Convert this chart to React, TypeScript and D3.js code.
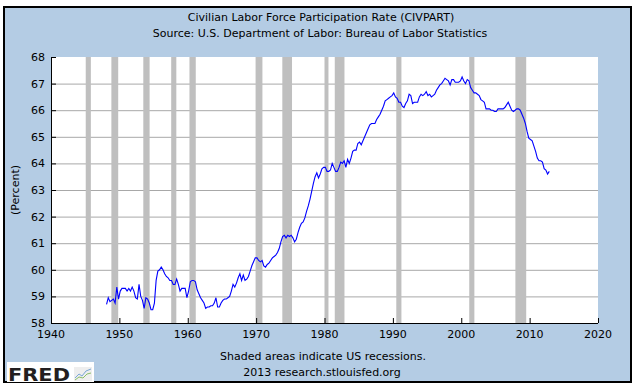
import React from "react";
import * as d3 from "d3";

// quarterly CIVPART values (percent)
const civpart1940s = [
  58.7, 58.95, 58.8, 58.85, // 1948
  58.9, 58.75, 59.35, 58.9, // 1949
];
const civpart1950s = [
  59.2, 59.3, 59.3, 59.3,
  59.2, 59.3, 59.2, 59.35,
  59.2, 58.95, 58.9, 59.45,
  59.0, 58.85, 58.55, 58.95,
  58.9, 58.75, 58.5, 58.5,
  58.75, 59.6, 59.95, 60.0,
  60.1, 60.0, 59.85, 59.75,
  59.7, 59.6, 59.6, 59.45,
  59.45, 59.65, 59.45, 59.2,
  59.3, 59.3, 59.3, 58.95,
];
const civpart1960s = [
  59.2, 59.55, 59.6, 59.6,
  59.55, 59.25, 59.1, 58.95,
  58.85, 58.75, 58.55, 58.6,
  58.6, 58.65, 58.65, 58.75,
  58.95, 58.6, 58.6, 58.75,
  58.85, 58.9, 58.9, 58.95,
  59.0, 59.2, 59.45, 59.35,
  59.5, 59.7, 59.85, 59.6,
  59.8, 59.6, 59.65, 59.75,
  59.95, 60.15, 60.3, 60.45,
];
const civpart1970s = [
  60.45, 60.35, 60.3, 60.35,
  60.15, 60.1, 60.2, 60.25,
  60.35, 60.45, 60.5, 60.55,
  60.65, 60.8, 61.05, 61.25,
  61.3, 61.2, 61.3, 61.25,
  61.3, 61.2, 61.05, 61.15,
  61.4, 61.6, 61.75, 61.8,
  61.95, 62.2, 62.4, 62.65,
  62.95, 63.25, 63.5, 63.65,
  63.45, 63.6, 63.8, 63.85,
];
const civpart1980s = [
  63.85, 63.7, 63.7, 63.75,
  64.0, 63.85, 63.7, 63.7,
  63.85, 64.05, 64.0, 64.1,
  63.85, 64.15, 64.0, 64.2,
  64.45, 64.5, 64.5, 64.75,
  64.8, 64.7, 64.85, 65.0,
  65.15, 65.3, 65.45, 65.5,
  65.5, 65.5, 65.65, 65.75,
  65.85, 66.0, 66.15, 66.35,
  66.4, 66.45, 66.5, 66.55,
];
const civpart1990s = [
  66.65, 66.5, 66.45, 66.3,
  66.3, 66.15, 66.1, 66.25,
  66.35, 66.6, 66.55, 66.25,
  66.3, 66.3, 66.3, 66.5,
  66.6, 66.55, 66.6, 66.7,
  66.55, 66.6, 66.5, 66.55,
  66.6, 66.75, 66.85, 66.95,
  67.0, 67.1, 67.2, 67.15,
  67.1, 66.95, 67.15, 67.15,
  67.05, 67.05, 67.05, 67.1,
];
const civpart2000s = [
  67.25, 67.1, 67.0, 67.15,
  67.1, 66.85, 66.75, 66.65,
  66.65, 66.6, 66.55, 66.4,
  66.35, 66.3, 66.05, 66.05,
  66.05, 66.0, 66.0, 65.95,
  65.95, 66.05, 66.05, 66.05,
  66.05, 66.1, 66.2, 66.3,
  66.15, 66.0, 65.95, 66.0,
  66.05, 66.05, 66.0, 65.85,
  65.7, 65.5, 65.2, 64.95,
];
const civpart2010s = [
  64.9, 64.85, 64.65, 64.45,
  64.2, 64.1, 64.1, 64.05,
  63.8, 63.75, 63.6, 63.7,
];

const firstYear = 1948;

// NBER recessions, [peak, trough] as decimal years
const recessions: [number, number][] = [
  [1945.08, 1945.83], [1948.83, 1949.83], [1953.5, 1954.42], [1957.58, 1958.33],
  [1960.25, 1961.17], [1969.92, 1970.92], [1973.83, 1975.25], [1980.0, 1980.58],
  [1981.5, 1982.92], [1990.5, 1991.25], [2001.17, 2001.92], [2007.92, 2009.5],
];

const xTicks = [1940, 1950, 1960, 1970, 1980, 1990, 2000, 2010, 2020];
const yTicks = [58, 59, 60, 61, 62, 63, 64, 65, 66, 67, 68];

const font = "'DejaVu Sans', Verdana, sans-serif";

export default function App() {
  const values = [
    ...civpart1940s, ...civpart1950s, ...civpart1960s, ...civpart1970s,
    ...civpart1980s, ...civpart1990s, ...civpart2000s, ...civpart2010s,
  ];
  const data = values.map((v, i) => ({ t: firstYear + i / 4 + 0.125, v }));

  const left = 51, right = 598, top = 57, bottom = 323;
  const x = d3.scaleLinear().domain([1940, 2020]).range([left, right]);
  const y = d3.scaleLinear().domain([58, 68]).range([bottom, top]);

  const line = d3
    .line<{ t: number; v: number }>()
    .x((d) => x(d.t))
    .y((d) => y(d.v));

  return (
    <div style={{ position: "absolute", left: 0, top: 0 }}>
      <svg width={635} height={388} style={{ display: "block" }}>
        <rect x={0} y={0} width={635} height={388} fill="#ffffff" />
        <rect x={4} y={7} width={627} height={375} fill="#b4cce4" stroke="#000" strokeWidth={2} />

        <text x={321} y={21} textAnchor="middle" fontFamily={font} fontSize={11} fill="#000">
          Civilian Labor Force Participation Rate (CIVPART)
        </text>
        <text x={320} y={37} textAnchor="middle" fontFamily={font} fontSize={11} fill="#000">
          Source: U.S. Department of Labor: Bureau of Labor Statistics
        </text>

        <rect x={left} y={top} width={right - left} height={bottom - top} fill="#ffffff" />

        {yTicks.slice(1, -1).map((t) => (
          <line key={t} x1={left} x2={right} y1={y(t) + 0.5} y2={y(t) + 0.5} stroke="#a8a8a8" strokeWidth={1} />
        ))}

        {recessions.map(([a, b]) => (
          <rect key={a} x={x(a)} y={top} width={x(b) - x(a)} height={bottom - top} fill="#bfbfbf" />
        ))}

        <path d={line(data) ?? ""} fill="none" stroke="#0000ff" strokeWidth={1.1} />

        <line x1={left + 0.5} x2={left + 0.5} y1={top} y2={bottom} stroke="#000" />
        <line x1={left} x2={right} y1={bottom + 0.5} y2={bottom + 0.5} stroke="#000" />

        {yTicks.map((t) => (
          <g key={t}>
            <line x1={left} x2={left + 5} y1={y(t) + 0.5} y2={y(t) + 0.5} stroke="#000" />
            <text x={45} y={y(t) + 4} textAnchor="end" fontFamily={font} fontSize={11} fill="#000">
              {t}
            </text>
          </g>
        ))}

        {xTicks.map((t) => (
          <g key={t}>
            <line x1={x(t) + 0.5} x2={x(t) + 0.5} y1={bottom} y2={bottom - 5} stroke="#000" />
            <text x={x(t)} y={338} textAnchor="middle" fontFamily={font} fontSize={11} fill="#000">
              {t}
            </text>
          </g>
        ))}

        <text
          transform={`translate(19,${(top + bottom) / 2}) rotate(-90)`}
          textAnchor="middle"
          fontFamily={font}
          fontSize={11}
          fill="#000"
        >
          (Percent)
        </text>

        <text x={323} y={360} textAnchor="middle" fontFamily={font} fontSize={11} fill="#000">
          Shaded areas indicate US recessions.
        </text>
        <text x={322} y={376} textAnchor="middle" fontFamily={font} fontSize={11} fill="#000">
          2013 research.stlouisfed.org
        </text>

        {/* FRED logo */}
        <rect x={7} y={362} width={87} height={20} fill="#ffffff" />
        <text
          x={8}
          y={380.5}
          fontFamily={font}
          fontWeight="bold"
          fontSize={17}
          textLength={62}
          lengthAdjust="spacingAndGlyphs"
          fill="#231f20"
        >
          FRED
        </text>
        <rect x={74} y={367} width={18} height={14} fill="#eeeeee" />
        <polyline points="75,378 79,374 82,376 86,371 91,369" fill="none" stroke="#7aa7d6" strokeWidth={1} />
        <polyline points="75,380 79,377 83,378 87,374 91,373" fill="none" stroke="#8cbf6a" strokeWidth={1} />
      </svg>
    </div>
  );
}
